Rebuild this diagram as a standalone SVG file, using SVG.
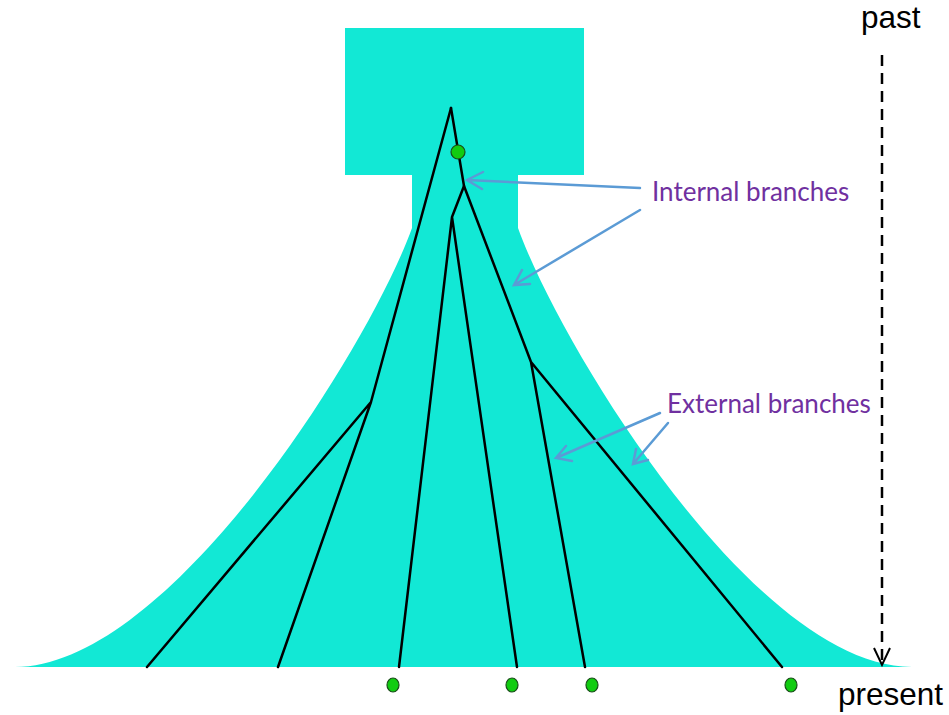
<svg xmlns="http://www.w3.org/2000/svg" width="949" height="715" viewBox="0 0 949 715">
<style>
.tree{fill:none;stroke:#000;stroke-width:2.5;stroke-linecap:round;stroke-linejoin:round}
.dot{fill:#11cc11;stroke:#1a4d1a;stroke-width:1.2}
.lbl{font-family:"Lato","Open Sans",sans-serif;font-size:26px;fill:#7030a0}
.ax{font-family:"Liberation Sans",Arial,sans-serif;font-size:31.5px;fill:#000}
.ann{fill:none;stroke:#5b9bd5;stroke-width:2.5;stroke-linecap:round}
</style>
<rect width="949" height="715" fill="#fff"/>
<g id="population">
<path d="M345,28 H584 V175 H518 V228 C560,345 755,667 912,667 H15 C170,667 370,345 412,228 V175 H345 Z" fill="#12e8d5"/>
</g>
<g id="tree">
<path class="tree" d="M451,108 L371,402 L147,667 M371,402 L278,667"/>
<path class="tree" d="M451,108 L464,186 L452,217 L399,667 M452,217 L517,667"/>
<path class="tree" d="M464,186 L531,362 L585,667 M531,362 L782,667"/>
</g>
<g id="dots">
<circle class="dot" cx="458" cy="152" r="7"/>
<ellipse class="dot" cx="393" cy="685" rx="6" ry="7"/>
<ellipse class="dot" cx="512" cy="685" rx="6" ry="7"/>
<ellipse class="dot" cx="592" cy="685" rx="6" ry="7"/>
<ellipse class="dot" cx="791" cy="685" rx="6" ry="7"/>
</g>
<g id="connectors">
<path class="ann" d="M640,188 L467,180 M483,172 L467,180 L482,189"/>
<path class="ann" d="M640,210 L514,285 M530,284 L514,285 L522,270"/>
<path class="ann" d="M660,413 L556,458 M572,461 L556,458 L566,446"/>
<path class="ann" d="M668,423 L633,464 M648,460 L633,464 L636,449"/>
<path d="M882,55 V664" fill="none" stroke="#000" stroke-width="2.5" stroke-dasharray="11,7"/>
<path d="M874,648 L882,665 L890,648" fill="none" stroke="#000" stroke-width="2"/>
</g>
<g id="labels">
<text class="lbl" x="652" y="201">Internal branches</text>
<text class="lbl" x="667" y="413">External branches</text>
<text class="ax" x="861" y="28">past</text>
<text class="ax" x="838" y="705">present</text>
</g>
</svg>
